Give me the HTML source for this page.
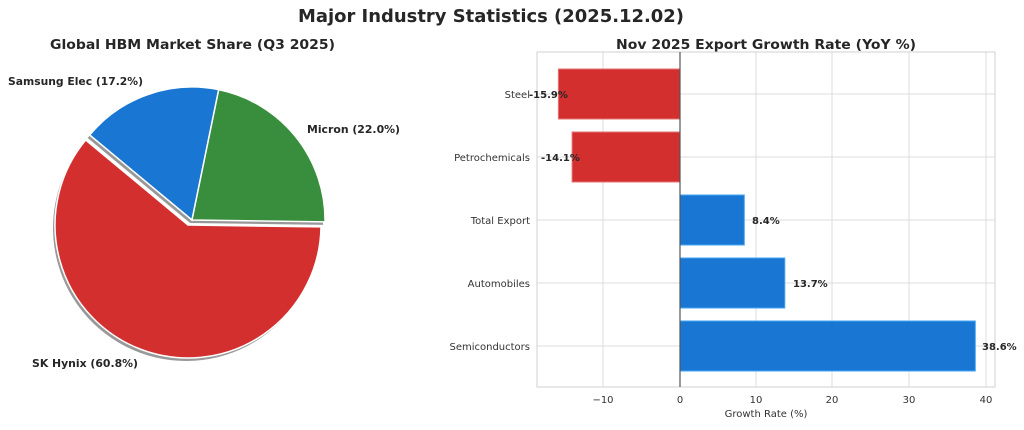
<!DOCTYPE html>
<html><head><style>body{margin:0;background:#fff}</style></head><body>
<svg width="1024" height="425" xmlns="http://www.w3.org/2000/svg" font-family="DejaVu Sans, Liberation Sans, sans-serif">
<rect width="1024" height="425" fill="#fff"/>
<text x="298" y="22" font-size="18" font-weight="bold" fill="#262626" textLength="386" lengthAdjust="spacingAndGlyphs">Major Industry Statistics (2025.12.02)</text>
<text x="50" y="49" font-size="13" font-weight="bold" fill="#262626" textLength="285" lengthAdjust="spacingAndGlyphs">Global HBM Market Share (Q3 2025)</text>
<text x="616" y="49" font-size="13" font-weight="bold" fill="#262626" textLength="300" lengthAdjust="spacingAndGlyphs">Nov 2025 Export Growth Rate (YoY %)</text>
<g fill="#000" opacity="0.4" transform="translate(-2,3)">
<path d="M188,225 L321,226.9 A133,133 0 1 1 85.7,140 Z"/>
<path d="M192,220 L89.7,135 A133,133 0 0 1 218.7,89.7 Z"/>
<path d="M192,220 L218.7,89.7 A133,133 0 0 1 325,221.9 Z"/>
</g>
<g stroke="#fff" stroke-width="1.5">
<path d="M188,225 L321,226.9 A133,133 0 1 1 85.7,140 Z" fill="#d32f2f"/>
<path d="M192,220 L89.7,135 A133,133 0 0 1 218.7,89.7 Z" fill="#1976d2"/>
<path d="M192,220 L218.7,89.7 A133,133 0 0 1 325,221.9 Z" fill="#388e3c"/>
</g>
<g font-size="11" font-weight="bold" fill="#262626">
<text x="8" y="85" textLength="135" lengthAdjust="spacingAndGlyphs">Samsung Elec (17.2%)</text>
<text x="307" y="133" textLength="93" lengthAdjust="spacingAndGlyphs">Micron (22.0%)</text>
<text x="32" y="367" textLength="106" lengthAdjust="spacingAndGlyphs">SK Hynix (60.8%)</text>
</g>
<g stroke="#dcdcdc" stroke-width="1">
<line x1="603" y1="52" x2="603" y2="387"/><line x1="756" y1="52" x2="756" y2="387"/>
<line x1="832" y1="52" x2="832" y2="387"/><line x1="909" y1="52" x2="909" y2="387"/><line x1="986" y1="52" x2="986" y2="387"/>
<line x1="537" y1="94" x2="995" y2="94"/><line x1="537" y1="157" x2="995" y2="157"/><line x1="537" y1="220" x2="995" y2="220"/>
<line x1="537" y1="283" x2="995" y2="283"/><line x1="537" y1="346" x2="995" y2="346"/>
</g>
<rect x="537" y="52" width="458" height="335" fill="none" stroke="#d0d0d0"/>
<g stroke-width="1">
<rect x="558.4" y="69" width="121.6" height="50" fill="#d32f2f" stroke="#e57373"/>
<rect x="572.1" y="132" width="107.9" height="50" fill="#d32f2f" stroke="#e57373"/>
<rect x="680" y="195" width="64.3" height="50" fill="#1976d2" stroke="#42a5f5"/>
<rect x="680" y="258" width="104.8" height="50" fill="#1976d2" stroke="#42a5f5"/>
<rect x="680" y="321" width="295.3" height="50" fill="#1976d2" stroke="#42a5f5"/>
</g>
<line x1="680" y1="52" x2="680" y2="387" stroke="#555" stroke-width="1.2"/>
<g font-size="10" fill="#333" text-anchor="end">
<text x="530" y="98">Steel</text><text x="530" y="161">Petrochemicals</text><text x="530" y="224">Total Export</text>
<text x="530" y="287">Automobiles</text><text x="530" y="350">Semiconductors</text>
</g>
<g font-size="10" font-weight="bold" fill="#262626">
<text x="529" y="98">-15.9%</text><text x="541" y="161">-14.1%</text><text x="752" y="224">8.4%</text>
<text x="793" y="287">13.7%</text><text x="982" y="350">38.6%</text>
</g>
<g font-size="10" fill="#333" text-anchor="middle">
<text x="603" y="403">−10</text><text x="680" y="403">0</text><text x="756" y="403">10</text>
<text x="832" y="403">20</text><text x="909" y="403">30</text><text x="986" y="403">40</text>
<text x="766" y="417">Growth Rate (%)</text>
</g>
</svg>
</body></html>
